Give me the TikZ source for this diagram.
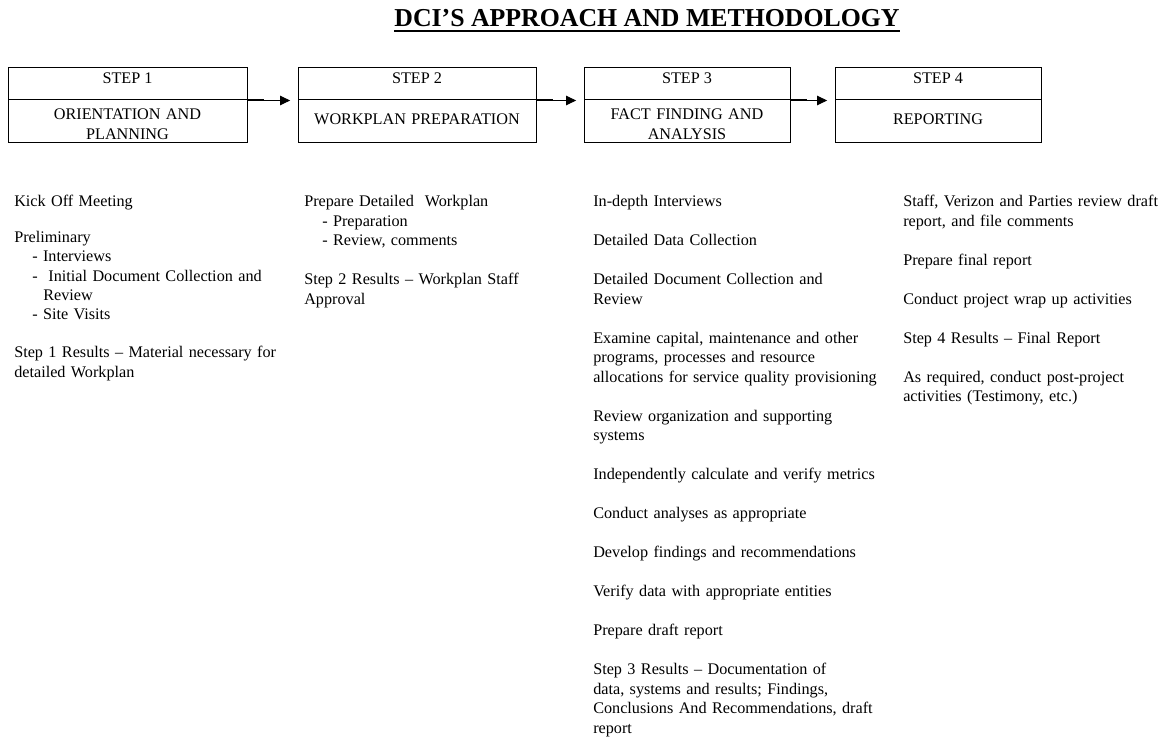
\documentclass[tikz,border=0pt]{standalone}
\usepackage{fontspec}
\setmainfont{Liberation Serif}
\usetikzlibrary{arrows.meta,fit}
\begin{document}
\begin{tikzpicture}[x=0.75pt,y=-0.75pt,
  bodyfont/.style={font=\fontsize{12.15pt}{14.625pt}\selectfont},
  part/.style={draw, line width=0.75pt, inner sep=0pt, align=center, bodyfont},
  boxtext/.style={anchor=base, inner sep=0pt, text width=170pt, align=center, bodyfont},
  col/.style={anchor=base west, inner sep=0pt, text width=240pt, align=left, bodyfont},
  flow/.style={line width=0.75pt, -{Triangle[length=7.5pt,width=7pt]}, shorten >=5.5pt},
  stub/.style={line width=1.5pt}]
\useasboundingbox (0,0) rectangle (1163,741);

% title
\node[anchor=base, inner sep=0pt, font=\bfseries\fontsize{19.35pt}{22pt}\selectfont] (title) at (647,27) {DCI’S APPROACH AND METHODOLOGY};
\draw[line width=1.7pt] ([yshift=-3.1pt]title.base west) -- ([yshift=-3.1pt]title.base east);

% step boxes: header part and name part
\node[part, fit={(8,68)(247,100)}] (h1) {STEP 1};
\node[part, fit={(8,100)(247,143)}] (b1) {};
\node[part, fit={(298,68)(536,100)}] (h2) {STEP 2};
\node[part, fit={(298,100)(536,143)}] (b2) {};
\node[part, fit={(584,68)(790,100)}] (h3) {STEP 3};
\node[part, fit={(584,100)(790,143)}] (b3) {};
\node[part, fit={(835,68)(1041,100)}] (h4) {STEP 4};
\node[part, fit={(835,100)(1041,143)}] (b4) {};

% step names
\node[boxtext] (n1) at (127.5,120) {ORIENTATION AND\\PLANNING};
\node[boxtext] (n2) at (417,125) {WORKPLAN PREPARATION};
\node[boxtext] (n3) at (687,120) {FACT FINDING AND\\ANALYSIS};
\node[boxtext] (n4) at (938,125) {REPORTING};

% connectors between the steps
\draw[stub] (h1.south east) -- ++(16,0);
\draw[flow] (h1.south east) -- (h2.south west);
\draw[stub] (h2.south east) -- ++(16,0);
\draw[flow] (h2.south east) -- (h3.south west);
\draw[stub] (h3.south east) -- ++(16,0);
\draw[flow] (h3.south east) -- (h4.south west);

% activity lists under each step
\node[col, font=\fontsize{12.15pt}{14.4pt}\selectfont] (c1) at (14,207) {Kick Off Meeting\\[12.4pt]
Preliminary\\
\hspace*{13.5pt}- Interviews\\
\hspace*{13.5pt}-\ \ Initial Document Collection and\\
\hspace*{21.75pt}Review\\
\hspace*{13.5pt}- Site Visits\\[\baselineskip]
Step 1 Results – Material necessary for\\
detailed Workplan};

\node[col] (c2) at (304,207) {Prepare Detailed\ \ Workplan\\
\hspace*{13.5pt}- Preparation\\
\hspace*{13.5pt}- Review, comments\\[\baselineskip]
Step 2 Results – Workplan Staff\\
Approval};

\node[col] (c3) at (593,207) {In-depth Interviews\\[\baselineskip]
Detailed Data Collection\\[\baselineskip]
Detailed Document Collection and\\
Review\\[\baselineskip]
Examine capital, maintenance and other\\
programs, processes and resource\\
allocations for service quality provisioning\\[\baselineskip]
Review organization and supporting\\
systems\\[\baselineskip]
Independently calculate and verify metrics\\[\baselineskip]
Conduct analyses as appropriate\\[\baselineskip]
Develop findings and recommendations\\[\baselineskip]
Verify data with appropriate entities\\[\baselineskip]
Prepare draft report\\[\baselineskip]
Step 3 Results – Documentation of\\
data, systems and results; Findings,\\
Conclusions And Recommendations, draft\\
report};

\node[col] (c4) at (903,207) {Staff, Verizon and Parties review draft\\
report, and file comments\\[\baselineskip]
Prepare final report\\[\baselineskip]
Conduct project wrap up activities\\[\baselineskip]
Step 4 Results – Final Report\\[\baselineskip]
As required, conduct post-project\\
activities (Testimony, etc.)};
\end{tikzpicture}
\end{document}
